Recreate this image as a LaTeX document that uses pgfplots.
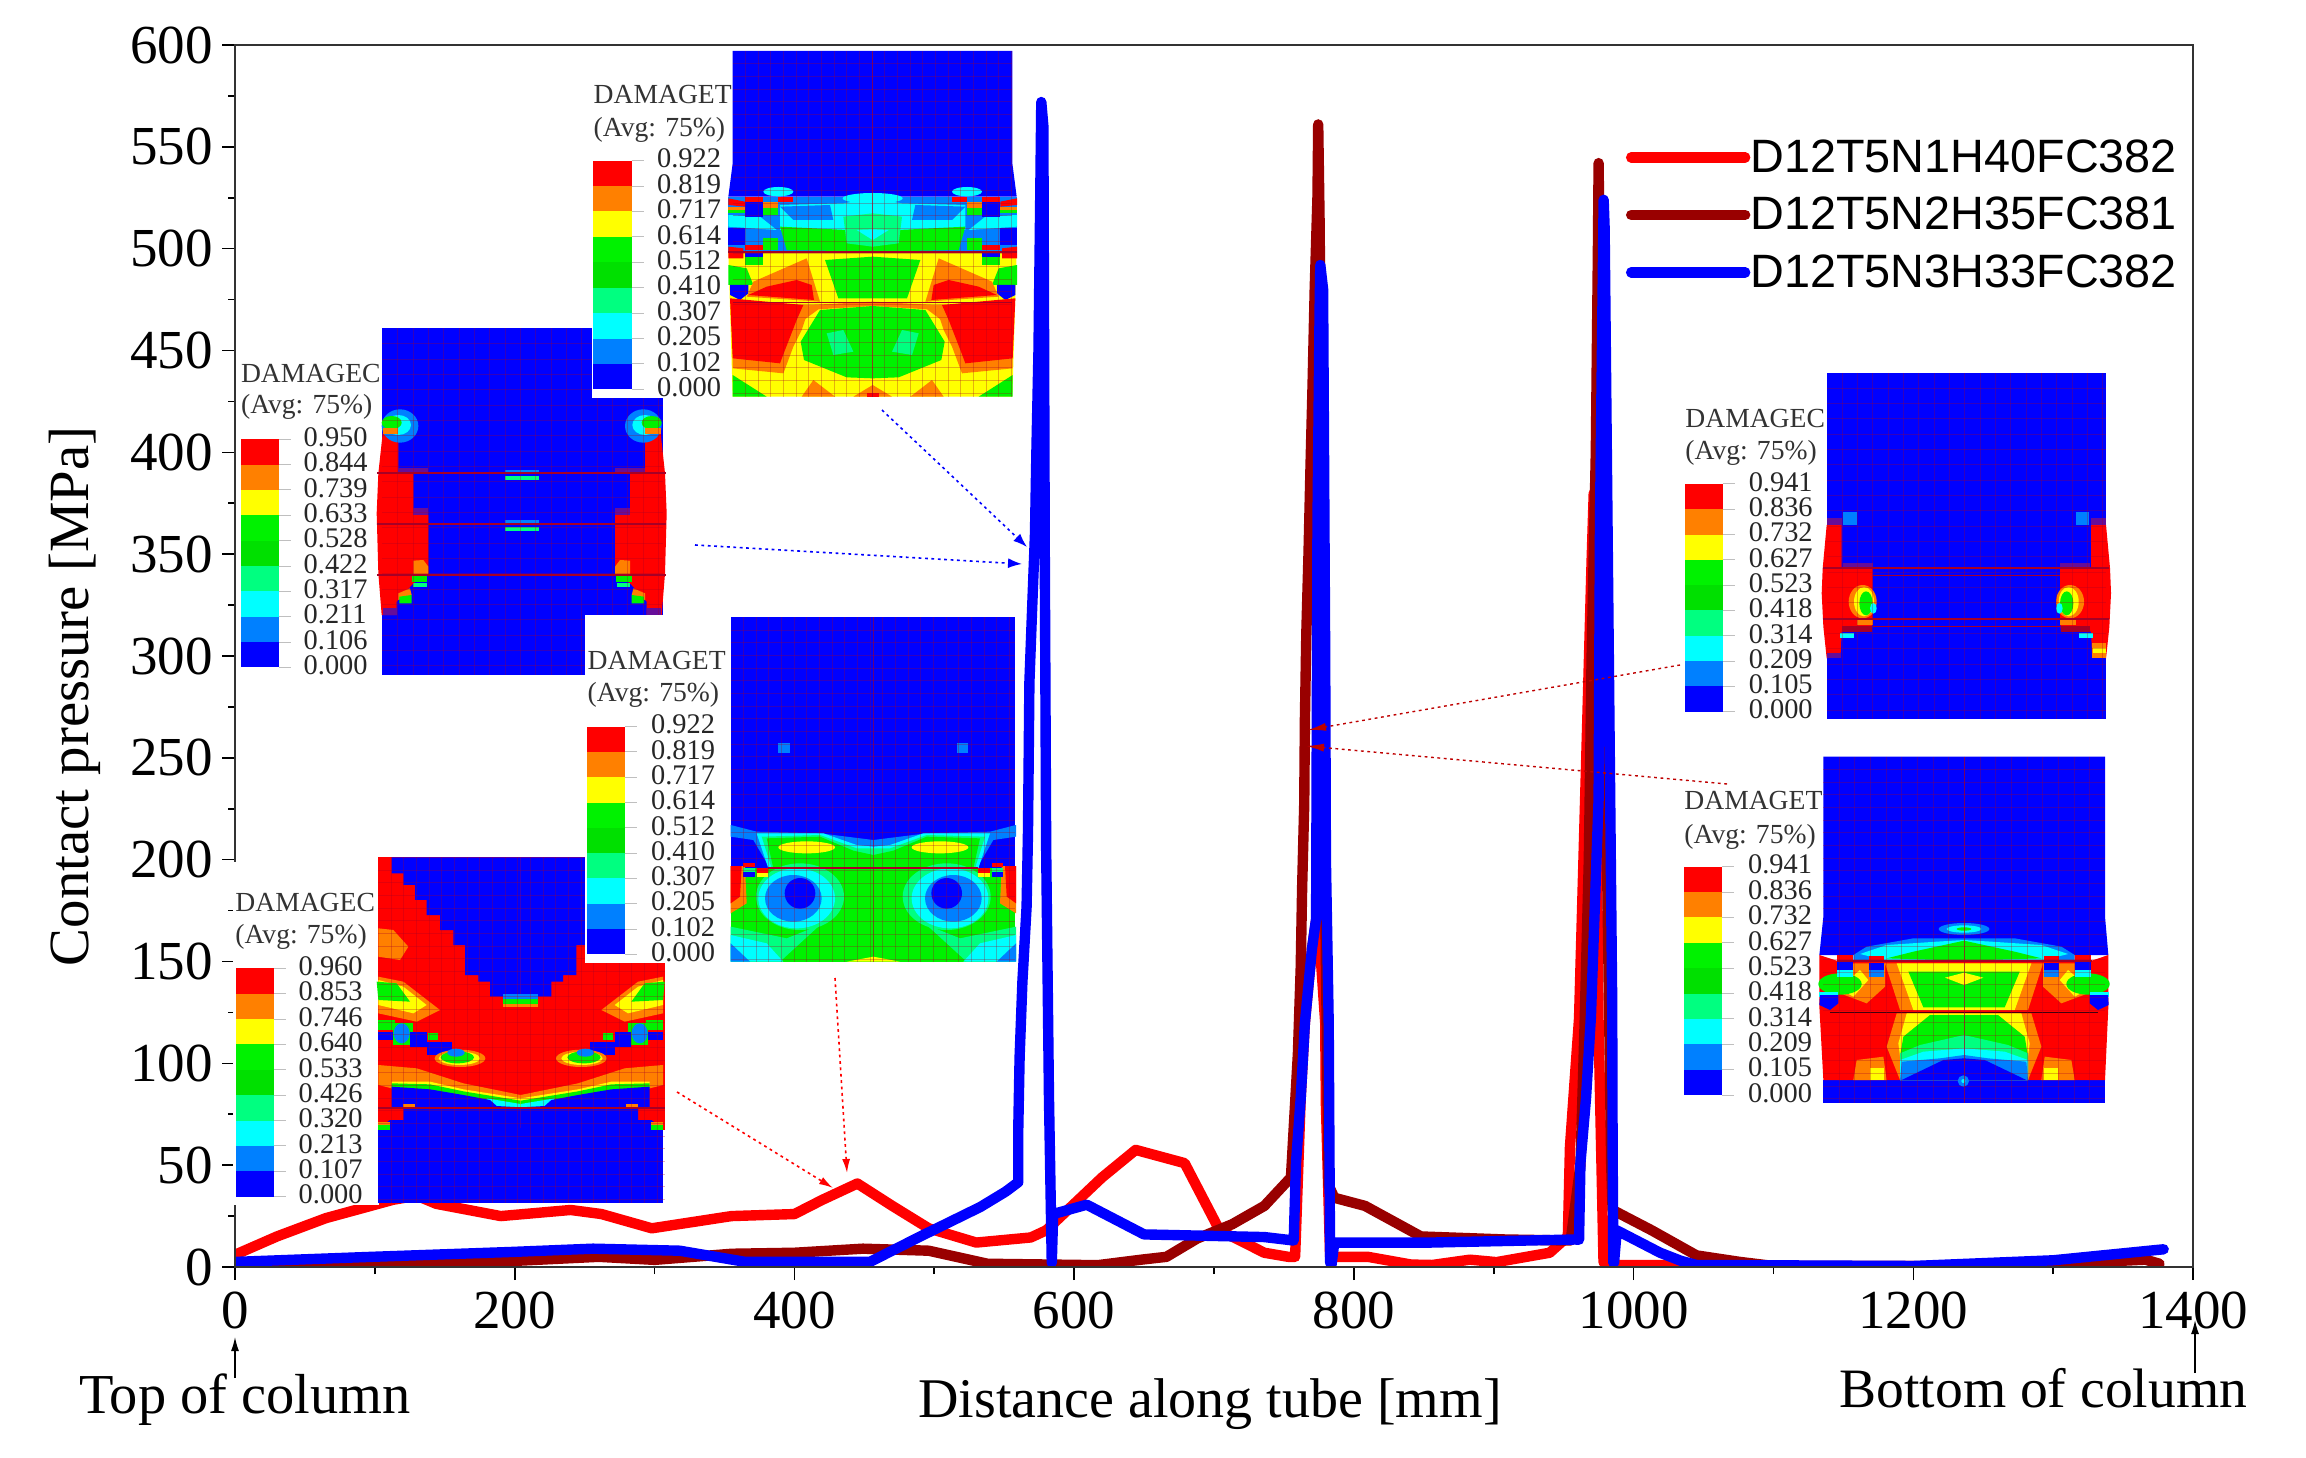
\documentclass[border=0pt]{standalone}
\usepackage{pgfplots}
\pgfplotsset{compat=1.18}
\usepackage{fontspec}
\setmainfont{Liberation Serif}
\newfontfamily\arialf{Liberation Sans}
\usetikzlibrary{arrows.meta}
\definecolor{cR}{rgb}{1,0,0}
\definecolor{cO}{rgb}{1,.5,0}
\definecolor{cY}{rgb}{1,1,0}
\definecolor{cG}{rgb}{0,.95,0}
\definecolor{cH}{rgb}{0,.88,0}
\definecolor{cS}{rgb}{0,1,.5}
\definecolor{cC}{rgb}{0,1,1}
\definecolor{cA}{rgb}{0,.5,1}
\definecolor{cB}{rgb}{0,0,1}
\definecolor{cL}{rgb}{.65,0,.15}
\definecolor{cP}{rgb}{.4,.05,.6}
\definecolor{maroonc}{rgb}{.6,0,0}
\definecolor{arrc}{rgb}{.75,0,0}
\newcommand\fs[1]{\fontsize{#1}{#1}\selectfont}
\newcommand\mir[2]{#2\begin{scope}[shift={(2*#1,0)},xscale=-1]#2\end{scope}}
% colour bar: x0,x1,ytop,ybot,labelx,labels
\newcommand\cbar[6]{%
 \pgfmathsetmacro\st{(#4-#3)/9}%
 \foreach \c [count=\i from 0] in {cR,cO,cY,cG,cH,cS,cC,cA,cB}{%
  \pgfmathsetmacro\ya{#3+\i*\st}\pgfmathsetmacro\yb{#3+(\i+1)*\st}%
  \fill[\c] (#1,\ya) rectangle (#2,\yb);}%
 \foreach \v [count=\i from 0] in {#6}{%
  \pgfmathsetmacro\ya{#3+\i*\st}%
  \draw[black!25,line width=.5pt] (#2,\ya) -- ++(36,0);
  \node[anchor=west,inner sep=0pt,font=\fs{14.2},text=black!85] at (#5,\ya-6) {\v};}%
}
% head text: x, baseline1, baseline2, name
\newcommand\head[4]{%
 \node[anchor=base west,inner sep=0pt,font=\fs{13.8},text=black!80] at (#1,#2) {#4};
 \node[anchor=base west,inner sep=0pt,font=\fs{13.8},text=black!80] at (#1,#3) {(Avg: 75\%)};}
% mesh: x0,x1,y0,y1,dx,dy
\newcommand\meshg[6]{%
 \pgfmathsetmacro\nx{int((#2-#1)/#5)}\pgfmathsetmacro\ny{int((#4-#3)/#6)}%
 \foreach \i in {1,...,\nx}{\pgfmathsetmacro\q{#1+\i*#5}\draw[cL,opacity=.3,line width=.3pt] (\q,#3) -- (\q,#4);}%
 \foreach \i in {1,...,\ny}{\pgfmathsetmacro\q{#3+\i*#6}\draw[cL,opacity=.3,line width=.3pt] (#1,\q) -- (#2,\q);}%
}
\begin{document}
\begin{tikzpicture}
\path[use as bounding box] (0pt,0pt) rectangle (1153pt,728.5pt);
\begin{axis}[
 at={(117.5pt,95pt)},anchor=south west,scale only axis,
 width=979pt,height=611pt,
 xmin=0,xmax=1400,ymin=0,ymax=600,
 xtick={0,200,...,1400},ytick={0,50,...,600},
 minor x tick num=1,minor y tick num=1,
 xtick pos=bottom,ytick pos=left,tick align=outside,
 major tick length=6.5pt,minor tick length=3.5pt,
 axis line style={black!80,line width=1pt},
 every tick/.style={black,line width=.8pt},
 /pgf/number format/assume math mode=true,
 /pgf/number format/1000 sep={},
 tick label style={font=\fs{27.5}},
 xticklabel style={inner sep=6pt},
 yticklabel style={inner sep=4.5pt},
 xlabel={Distance along tube [mm]},
 ylabel={Contact pressure [MPa]},
 xlabel style={at={(axis description cs:0.498,-0.1229)},anchor=base,font=\fs{28}},
 ylabel style={at={(axis description cs:-0.0746,0.467)},anchor=base,font=\fs{28.4}},
 axis on top,
 legend style={at={(axis description cs:0.7104,0.9226)},anchor=north west,
   draw=none,fill=none,inner sep=0pt,outer sep=0pt,
   font=\arialf\fs{23.4},row sep=10.9pt,
   nodes={inner sep=0pt},
   /tikz/every even column/.append style={column sep=5pt}},
 legend cell align=left,
 legend image code/.code={\draw[#1,line cap=round] (0pt,0pt) -- (57pt,0pt);},
 every axis plot/.append style={line width=5.2pt,line join=round,line cap=round,mark=none},
]
\addplot[color=red] coordinates {(0,6)(30,15)(65,24)(113,33)(130,35)(144,31)(190,25)(240,28)(262,26)(298,19)(355,25)(400,26)(420,33)(445,41)(470,30)(496,19)(530,12)(569,14.5)(580,18)(600,31)(620,44)(644,57.5)(679,51)(704,18)(736,7)(753,5)(758,5)(762,83)(765,120)(770,156)(774,175)(779.5,120)(780,80)(783,5)(810,5)(841,1.2)(856,1)(883,3.6)(902,2.4)(940,7)(953,15)(954.5,59)(961,122)(964,196)(967,271)(970,347)(971.5,380)(975,117)(978.5,2.4)(985,1)(1034,1)(1050,0.5)(1200,0.5)};
\addlegendentry{D12T5N1H40FC382}
\addplot[color=maroonc] coordinates {(0,0)(70,0.3)(76,0.8)(150,1.5)(200,3)(260,5)(300,3.5)(355,6.5)(400,7)(449,9)(496,8)(538,1.6)(606,1)(618,1)(648,3.6)(666,5)(688,14)(713,21)(736,30)(755,44)(760,105)(762,147)(763,186)(764.5,227)(765,269)(766,311)(767.6,351)(769,393)(770.5,434)(772,480)(774,526)(774.5,561)(775.5,513)(778,300)(780,150)(782,40)(786,34)(808,30)(848,15)(909,13.5)(955,13)(962,50)(965,120)(968,200)(970,300)(973,400)(974.5,500)(975,542)(977,400)(981,200)(984,50)(985,28)(1013,18)(1045,5.7)(1076,2.5)(1100,0.5)(1290,0.5)(1303,1.6)(1366,3.6)(1376,1.6)};
\addlegendentry{D12T5N2H35FC381}
\addplot[color=blue] coordinates {(0,2.5)(94,4.9)(198,7.4)(256,9)(318,8)(365,2.5)(454,2.5)(490,15)(533,29.5)(551,37)(560,41.6)(560,66)(561,103)(563,140)(566,177)(567,214)(567.5,250)(568,287)(570,324)(572,360)(573,400)(574.5,450)(575.5,510)(576.5,572)(578,560)(579,350)(580,205)(582,83)(584,2)(585,26)(609,30.6)(650,16)(736,14.7)(757,13)(758.6,51)(762,83)(765,120)(770,156)(773,171)(774,366)(775.5,470)(776,492)(778,480)(779.5,299)(780,200)(782,120)(783,2.4)(784,1)(786,12)(801,12)(855,12)(958,13.5)(961,13.4)(962,51)(966,83)(969.5,123)(975,230)(976,367)(978.6,524)(979.3,510)(982,320)(984.7,130)(985,60)(985.5,2)(986,2)(988,18)(1019,7)(1034,3)(1045,1)(1200,0.5)(1300,3.3)(1379,8.7)};
\addlegendentry{D12T5N3H33FC382}
\end{axis}

\begin{scope}[x=0.5pt,y=-0.5pt,yshift=728.5pt]
% ---------- Inset A (zoom origin 200,300)
\begin{scope}[shift={(200,300)},x=0.1666667pt,y=-0.1666667pt]
\fill[white] (112,180) rectangle (548,1140);
\head{122}{248}{340}{DAMAGEC}
\cbar{122}{237}{418}{1102}{310}{0.950,0.844,0.739,0.633,0.528,0.422,0.317,0.211,0.106,0.000}
\fill[cB] (547,85) rectangle (1390,1125);
\mir{965}{
 \fill[cR] (548,400)--(535,520)--(530,640)--(535,820)--(545,945)--(590,945)--(590,905)--(640,850)--(685,820)--(685,645)--(640,645)--(640,520)--(595,520)--(595,400)--cycle;
 \fill[cP] (548,925) rectangle (590,945);
 \fill[cP] (640,625) rectangle (685,645);
 \fill[cP] (595,503) rectangle (685,520);
 \fill[cA] (600,378) ellipse [x radius=55,y radius=50];
 \fill[cC] (595,375) ellipse [x radius=38,y radius=30];
 \fill[cG] (575,368) ellipse [x radius=30,y radius=20];
 \fill[cO] (548,385) rectangle (595,402);
 \fill[cO] (640,782)--(670,780)--(685,800)--(685,825)--(640,825)--cycle;
 \fill[cG] (635,828) rectangle (682,845);
 \fill[cS] (640,850) rectangle (680,862);
 \fill[cO] (595,880)--(630,865)--(635,885)--(595,900)--cycle;
 \fill[cG] (598,890)--(635,885)--(635,910)--(598,910)--cycle;
}
\fill[cA] (915,510) rectangle (1018,520);
\fill[cS] (915,527) rectangle (1018,540);
\fill[cA] (915,660) rectangle (1018,668);
\fill[cS] (915,680) rectangle (1018,692);
\foreach \yy in {520,672,825}{\draw[cL,line width=.9pt] (532,\yy) -- (1398,\yy);}
\meshg{547}{1390}{85}{1125}{46}{46}
\end{scope}
% ---------- Inset C (zoom origin 230,850)
\begin{scope}[shift={(230,850)},x=0.1666667pt,y=-0.1666667pt]
\fill[white] (10,36) rectangle (446,1065);
\head{15}{185}{280}{DAMAGEC}
\cbar{17}{132}{355}{1040}{205}{0.960,0.853,0.746,0.640,0.533,0.426,0.320,0.213,0.107,0.000}
\fill[cR] (445,22) rectangle (1305,840);
\fill[cB] (445,835) rectangle (1300,1060);
\mir{872}{
 \fill[cB] (485,22)--(485,70)--(520,70)--(520,105)--(555,105)--(555,150)--(590,150)--(590,195)--(630,195)--(630,240)--(670,240)--(670,285)--(705,285)--(705,375)--(745,375)--(745,395)--(780,395)--(780,440)--(872,440)--(872,22)--cycle;
 \fill[cO] (445,235)--(490,240)--(535,290)--(510,330)--(445,320)--cycle;
 \fill[cO] (445,380)--(520,395)--(630,480)--(560,515)--(445,490)--cycle;
 \fill[cY] (445,390)--(520,410)--(590,465)--(550,490)--(445,465)--cycle;
 \fill[cG] (440,395)--(500,400)--(540,455)--(445,450)--cycle;
 \fill[cG] (445,510) rectangle (495,540);
 \fill[cB] (445,545) rectangle (490,570);
 \fill[cG] (490,520) rectangle (550,585);
 \fill[cA] (515,550) ellipse [x radius=24,y radius=30];
 \fill[cB] (540,545) rectangle (590,590);
 \fill[cB] (590,575) rectangle (665,615);
 \fill[cG] (595,550) rectangle (625,570);
 \fill[cO] (690,625) ellipse [x radius=76,y radius=26];
 \fill[cY] (688,625) ellipse [x radius=62,y radius=20];
 \fill[cG] (682,622) ellipse [x radius=50,y radius=18];
 \fill[cA] (678,608) ellipse [x radius=26,y radius=12];
 \fill[cO] (445,645)--(560,655)--(700,700)--(872,735)--(872,770)--(485,715)--(445,705)--cycle;
 \fill[cY] (485,695)--(600,695)--(700,718)--(872,745)--(872,770)--(485,715)--cycle;
 \fill[cG] (485,700)--(600,703)--(700,724)--(872,752)--(872,775)--(485,715)--cycle;
 \fill[cC] (770,745)--(872,762)--(872,775)--(790,775)--cycle;
 \fill[cB] (485,710)--(600,718)--(700,735)--(780,750)--(800,768)--(872,772)--(872,835)--(445,835)--(480,810)--(520,810)--(520,775)--(485,775)--cycle;
 \fill[cO] (520,762) rectangle (555,775);
 \fill[cG] (445,820) rectangle (480,840);
 \fill[cO] (445,815) rectangle (480,825);
}
\fill[cO] (820,432) rectangle (925,470);
\fill[cG] (820,445) rectangle (925,462);
\fill[cA] (820,432) rectangle (925,448);
\draw[cL,line width=.9pt] (445,775) -- (1305,775);
\meshg{445}{1305}{22}{1060}{38}{38}
\end{scope}
% ---------- Inset Mid (zoom origin 580,610)
\begin{scope}[shift={(580,610)},x=0.1666667pt,y=-0.1666667pt]
\fill[white] (15,15) rectangle (452,1060);
\head{22}{178}{275}{DAMAGET}
\cbar{22}{135}{350}{1033}{212}{0.922,0.819,0.717,0.614,0.512,0.410,0.307,0.205,0.102,0.000}
\fill[cB] (452,22) rectangle (1305,1055);
\fill[cG] (452,775) rectangle (1305,1055);
\mir{880}{
 \fill[cA] (452,645)--(530,665)--(720,670)--(880,690)--(880,775)--(570,775)--(520,690)--(452,680)--cycle;
 \fill[cC] (530,670)--(730,670)--(830,705)--(880,710)--(880,775)--(565,775)--cycle;
 \fill[cS] (545,680)--(720,675)--(830,715)--(880,715)--(880,775)--(575,775)--cycle;
 \fill[cG] (560,685)--(720,680)--(820,722)--(880,735)--(880,775)--(580,775)--cycle;
 \fill[cY] (680,712) ellipse [x radius=85,y radius=18];
 \fill[cA] (595,400) rectangle (630,430);
 \fill[cS] (660,860) ellipse [x radius=132,y radius=100];
 \fill[cC] (650,865) ellipse [x radius=115,y radius=90];
 \fill[cA] (640,865) ellipse [x radius=85,y radius=70];
 \fill[cB] (660,850) circle [radius=46];
 \fill[cS] (452,950)--(620,985)--(720,945)--(600,1055)--(452,1055)--cycle;
 \fill[cC] (452,975)--(560,1000)--(610,1055)--(452,1055)--cycle;
 \fill[cA] (452,1000)--(510,1055)--(452,1055)--cycle;
 \fill[cO] (452,768)--(495,768)--(500,880)--(452,910)--cycle;
 \fill[cR] (452,768)--(485,768)--(480,860)--(452,880)--cycle;
 \fill[cR] (490,758) rectangle (525,772);
 \fill[cS] (490,775) rectangle (525,785);
 \fill[cB] (490,785) rectangle (525,802);
 \fill[cR] (530,775) rectangle (565,790);
 \fill[cY] (530,790) rectangle (565,802);
}
\fill[cY] (800,1055)--(880,1040)--(960,1055)--cycle;
\draw[cL,line width=1pt] (565,773) -- (1195,773);
\meshg{452}{1305}{22}{1055}{38}{38}
\draw[cL,opacity=.6,line width=.5pt] (880,22) -- (880,1055);
\end{scope}
% ---------- Inset Top (zoom origin 580,30)
\begin{scope}[shift={(580,30)},x=0.1666667pt,y=-0.1666667pt]
\fill[white] (36,63) rectangle (458,1103);
\head{40}{222}{320}{DAMAGET}
\cbar{40}{155}{392}{1078}{230}{0.922,0.819,0.717,0.614,0.512,0.410,0.307,0.205,0.102,0.000}
\fill[cB] (458,63)--(1297,63)--(1297,400)--(1310,500)--(458,500)--(445,500)--(458,400)--cycle;
\fill[cY] (445,665)--(1310,665)--(1297,1100)--(458,1100)--cycle;
\fill[cA] (445,500) rectangle (1310,665);
\mir{878}{
 \fill[cC] (600,525)--(790,520)--(878,505)--(878,600)--(600,600)--cycle;
 \fill[cA] (600,530)--(750,525)--(760,570)--(640,570)--cycle;
 \fill[cG] (600,590)--(800,600)--(878,620)--(878,665)--(620,660)--cycle;
 \fill[cS] (790,560)--(878,550)--(878,650)--(800,640)--cycle;
 \fill[cC] (830,600)--(878,598)--(878,630)--cycle;
 \fill[cC] (595,485) ellipse [x radius=45,y radius=14];
 \fill[cR] (445,505)--(495,515)--(495,530)--(445,525)--cycle;
 \fill[cO] (445,530) rectangle (495,540);
 \fill[cG] (445,540) rectangle (495,550);
 \fill[cC] (445,555)--(540,560)--(590,600)--(445,590)--cycle;
 \fill[cB] (445,595) rectangle (495,645);
 \fill[cR] (495,500) rectangle (550,515);
 \fill[cR] (595,500) rectangle (640,515);
 \fill[cB] (495,515) rectangle (550,560);
 \fill[cO] (550,515) rectangle (595,535);
 \fill[cG] (550,535) rectangle (595,555);
 \fill[cG] (550,625) rectangle (595,660);
 \fill[cR] (445,650)--(490,655)--(490,685)--(445,685)--cycle;
 \fill[cR] (495,645) rectangle (550,660);
 \fill[cB] (495,665) rectangle (550,680);
 \fill[cG] (495,682) rectangle (550,705);
 \fill[cG] (445,705)--(500,715)--(520,765)--(445,765)--cycle;
 \fill[cB] (450,765)--(505,765)--(505,790)--(480,810)--(450,795)--cycle;
 \fill[cO] (520,755)--(680,685)--(720,815)--(500,800)--cycle;
 \fill[cR] (505,795)--(560,770)--(650,750)--(695,765)--(702,810)--cycle;
 \fill[cG] (878,680)--(735,690)--(775,805)--(878,805)--cycle;
 \fill[cO] (458,985)--(458,820)--(690,825)--(665,900)--(640,950)--(610,1030)--(458,1015)--cycle;
 \fill[cR] (450,805)--(670,825)--(650,870)--(615,960)--(600,1000)--(458,985)--cycle;
 \fill[cO] (690,825)--(878,815)--(878,828)--(715,838)--(672,870)--cycle;
 \fill[cG] (878,828)--(720,840)--(662,935)--(672,990)--(800,1042)--(878,1045)--cycle;
 \fill[cS] (740,910)--(790,900)--(820,965)--(760,975)--cycle;
 \fill[cG] (458,1035)--(560,1100)--(458,1100)--cycle;
 \fill[cO] (665,1100)--(700,1050)--(765,1100)--cycle;
 \fill[cO] (820,1100)--(878,1065)--(878,1100)--cycle;
}
\fill[cC] (878,505) ellipse [x radius=90,y radius=16];
\fill[cR] (860,1090) rectangle (896,1100);
\draw[cL,line width=1pt] (445,665) -- (1310,665);
\draw[cL,line width=.8pt] (458,818) -- (1297,818);
\meshg{458}{1297}{63}{1100}{38}{38}
\draw[cL,opacity=.6,line width=.5pt] (878,63) -- (878,1100);
\end{scope}
% ---------- Inset right top (zoom origin 1680,360)
\begin{scope}[shift={(1680,360)},x=0.1666667pt,y=-0.1666667pt]
\head{15}{202}{300}{DAMAGEC}
\cbar{15}{130}{372}{1055}{205}{0.941,0.836,0.732,0.627,0.523,0.418,0.314,0.209,0.105,0.000}
\fill[cB] (440,38) rectangle (1278,1078);
\mir{859}{
 \fill[cR] (440,495)--(485,495)--(485,625)--(578,625)--(578,780)--(575,815)--(485,815)--(482,880)--(440,895)--(430,800)--(425,700)--(428,625)--cycle;
 \fill[cP] (440,475) rectangle (485,495);
 \fill[cA] (490,455) rectangle (530,495);
 \fill[cP] (488,608) rectangle (578,625);
 \fill[cL] (487,797) rectangle (575,815);
 \fill[cO] (578,780) rectangle (530,795);
 \fill[cO] (548,725) ellipse [x radius=42,y radius=50];
 \fill[cY] (552,725) ellipse [x radius=30,y radius=44];
 \fill[cG] (558,730) ellipse [x radius=20,y radius=36];
 \fill[cC] (580,745) ellipse [x radius=10,y radius=16];
 \fill[cC] (480,820) rectangle (522,835);
}
\fill[cP] (440,878) rectangle (483,895);
\fill[cO] (1235,850) rectangle (1278,895);
\fill[cY] (1240,865) rectangle (1278,880);
\foreach \yy in {625,778}{\draw[cL,line width=.9pt] (430,\yy) -- (1288,\yy);}
\draw[cL,line width=.7pt] (578,646) -- (1140,646);
\draw[cL,line width=.5pt] (578,798) -- (1140,798);
\meshg{440}{1278}{38}{1078}{46}{46}
\end{scope}
% ---------- Inset right bottom (zoom origin 1680,750)
\begin{scope}[shift={(1680,750)},x=0.1666667pt,y=-0.1666667pt]
\head{12}{180}{280}{DAMAGET}
\cbar{12}{127}{350}{1035}{203}{0.941,0.836,0.732,0.627,0.523,0.418,0.314,0.209,0.105,0.000}
\fill[cB] (430,20)--(1275,20)--(1275,500)--(1285,615)--(418,615)--(430,500)--cycle;
\fill[cB] (430,990) rectangle (1275,1060);
\fill[cR] (418,615)--(470,632)--(1235,632)--(1285,615)--(1285,770)--(1275,990)--(430,990)--(418,770)--cycle;
\mir{852}{
 \fill[cA] (520,615)--(560,590)--(700,565)--(852,565)--(852,632)--(520,632)--cycle;
 \fill[cC] (540,612)--(620,585)--(770,575)--(852,570)--(852,632)--(620,632)--cycle;
 \fill[cG] (620,625)--(700,605)--(852,572)--(852,632)--cycle;
 \fill[cO] (852,640)--(615,640)--(660,780)--(852,780)--cycle;
 \fill[cY] (852,640)--(650,640)--(700,780)--(852,780)--cycle;
 \fill[cG] (852,665)--(685,665)--(730,772)--(852,772)--cycle;
 \fill[cO] (520,640)--(615,640)--(615,710)--(560,760)--(480,730)--cycle;
 \fill[cY] (540,660)--(565,690)--(520,740)--(475,715)--cycle;
 \fill[cG] (480,702) ellipse [x radius=65,y radius=32];
 \fill[cC] (418,725) rectangle (475,740);
 \fill[cB] (420,735)--(475,735)--(475,760)--(450,780)--(418,765)--cycle;
 \fill[cB] (470,635) rectangle (520,660);
 \fill[cC] (470,660) rectangle (520,680);
 \fill[cB] (568,640) rectangle (612,660);
 \fill[cA] (568,660) rectangle (612,682);
 \fill[cR] (470,615) rectangle (520,632);
 \fill[cR] (568,618) rectangle (612,632);
 \fill[cO] (852,790)--(650,790)--(620,890)--(660,990)--(852,990)--cycle;
 \fill[cY] (852,790)--(680,790)--(655,880)--(660,920)--(852,920)--cycle;
 \fill[cG] (852,795)--(750,795)--(670,860)--(660,920)--(852,920)--cycle;
 \fill[cS] (660,910)--(720,885)--(852,855)--(852,990)--(660,990)--cycle;
 \fill[cC] (660,930)--(730,905)--(852,895)--(852,990)--(660,990)--cycle;
 \fill[cA] (660,990)--(665,935)--(780,925)--(852,915)--(852,990)--cycle;
 \fill[cB] (665,990)--(790,930)--(852,925)--(852,990)--cycle;
 \fill[cO] (520,990)--(530,930)--(610,920)--(620,990)--cycle;
 \fill[cY] (570,955) rectangle (612,990);
}
\fill[cY] (795,683)--(852,668)--(910,683)--(852,705)--cycle;
\fill[cA] (852,537) ellipse [x radius=76,y radius=18];
\fill[cC] (852,537) ellipse [x radius=52,y radius=11];
\fill[cG] (852,537) ellipse [x radius=22,y radius=5];
\fill[cA] (850,993) circle [radius=17];
\fill[cC] (850,993) circle [radius=6];
\draw[cL,line width=.9pt] (470,632) -- (1235,632);
\draw[black!60!cL,line width=.8pt] (450,787) -- (1255,787);
\meshg{430}{1275}{20}{1060}{47}{38}
\draw[cL,opacity=.6,line width=.5pt] (852,20) -- (852,1060);
\end{scope}
% ---------- call-out arrows
\draw[blue,line width=.8pt,dash pattern=on 1.4pt off 1.8pt,-{Latex[length=7pt,width=5pt]}] (882,410) -- (1027,547);
\draw[blue,line width=.8pt,dash pattern=on 1.4pt off 1.8pt,-{Latex[length=7pt,width=5pt]}] (695,545) -- (1022,564);
\draw[red,line width=.8pt,dash pattern=on 1.4pt off 1.8pt,-{Latex[length=7pt,width=4pt]}] (677,1092) -- (833,1188);
\draw[red,line width=.8pt,dash pattern=on 1.4pt off 1.8pt,-{Latex[length=7pt,width=4pt]}] (835,978) -- (847,1173);
\draw[arrc,line width=.7pt,dash pattern=on 1.4pt off 1.8pt,-{Latex[length=9pt,width=4pt]}] (1680,665) -- (1308,730);
\draw[arrc,line width=.7pt,dash pattern=on 1.4pt off 1.8pt,-{Latex[length=9pt,width=4pt]}] (1727,784) -- (1306,746);
% ---------- end labels
\node[anchor=base west,inner sep=0pt,font=\fs{28.2}] at (79,1413) {Top of column};
\draw[black,line width=.7pt,-{Latex[length=7pt,width=4pt]}] (235,1378) -- (235,1337);
\node[anchor=base west,inner sep=0pt,font=\fs{27.8}] at (1839,1407) {Bottom of column};
\draw[black,line width=.7pt,-{Latex[length=7pt,width=4pt]}] (2195,1373) -- (2195,1320);
\end{scope}
\end{tikzpicture}
\end{document}
